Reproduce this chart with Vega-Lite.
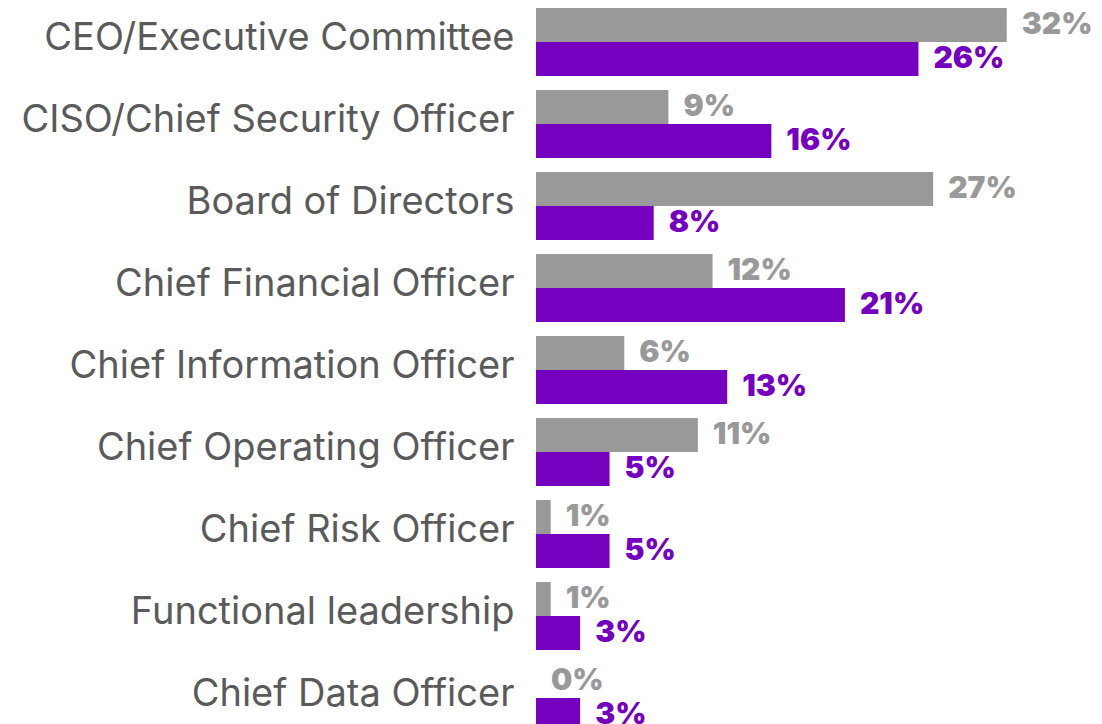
{
  "$schema": "https://vega.github.io/schema/vega-lite/v6.json",
  "width": 559,
  "height": 724,
  "autosize": {"type": "none"},
  "padding": {"left": 536, "top": 8, "right": 0, "bottom": 0},
  "background": "white",
  "config": {"view": {"stroke": null}},
  "data": {
    "values": [
      {"role": "CEO/Executive Committee", "series": "Series 1", "value": 0.32},
      {"role": "CEO/Executive Committee", "series": "Series 2", "value": 0.26},
      {"role": "CISO/Chief Security Officer", "series": "Series 1", "value": 0.09},
      {"role": "CISO/Chief Security Officer", "series": "Series 2", "value": 0.16},
      {"role": "Board of Directors", "series": "Series 1", "value": 0.27},
      {"role": "Board of Directors", "series": "Series 2", "value": 0.08},
      {"role": "Chief Financial Officer", "series": "Series 1", "value": 0.12},
      {"role": "Chief Financial Officer", "series": "Series 2", "value": 0.21},
      {"role": "Chief Information Officer", "series": "Series 1", "value": 0.06},
      {"role": "Chief Information Officer", "series": "Series 2", "value": 0.13},
      {"role": "Chief Operating Officer", "series": "Series 1", "value": 0.11},
      {"role": "Chief Operating Officer", "series": "Series 2", "value": 0.05},
      {"role": "Chief Risk Officer", "series": "Series 1", "value": 0.01},
      {"role": "Chief Risk Officer", "series": "Series 2", "value": 0.05},
      {"role": "Functional leadership", "series": "Series 1", "value": 0.01},
      {"role": "Functional leadership", "series": "Series 2", "value": 0.03},
      {"role": "Chief Data Officer", "series": "Series 1", "value": 0.0},
      {"role": "Chief Data Officer", "series": "Series 2", "value": 0.03}
    ]
  },
  "encoding": {
    "y": {
      "field": "role",
      "type": "nominal",
      "sort": null,
      "scale": {"paddingInner": 0.1707, "paddingOuter": 0},
      "axis": {
        "title": null,
        "domain": false,
        "ticks": false,
        "labelFontSize": 38,
        "labelFont": "Inter",
        "labelFontWeight": 400,
        "labelColor": "#5a5a5a",
        "labelPadding": 22,
        "labelOffset": -3,
        "labelLimit": 600
      }
    },
    "yOffset": {"field": "series", "type": "nominal", "sort": ["Series 1", "Series 2"]},
    "x": {"field": "value", "type": "quantitative", "scale": {"domain": [0, 0.38]}, "axis": null},
    "color": {
      "field": "series",
      "type": "nominal",
      "scale": {"domain": ["Series 1", "Series 2"], "range": ["#999999", "#7500c0"]},
      "legend": null
    }
  },
  "layer": [
    {"mark": {"type": "bar"}},
    {
      "mark": {"type": "text", "align": "left", "baseline": "middle", "dx": 15, "fontSize": 30, "fontWeight": 900, "font": "Inter"},
      "encoding": {"text": {"field": "value", "type": "quantitative", "format": ".0%"}}
    }
  ]
}
